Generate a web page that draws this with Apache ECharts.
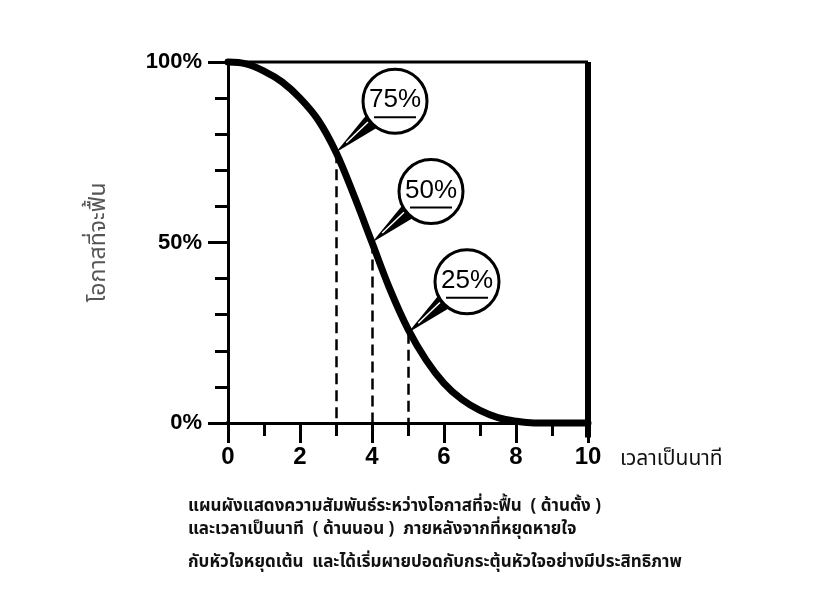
<!DOCTYPE html>
<html>
<head>
<meta charset="utf-8">
<script src="https://cdn.jsdelivr.net/npm/echarts@6/dist/echarts.min.js"></script>
<style>
html,body{margin:0;padding:0;background:#fff;}
#chart{width:818px;height:598px;}
</style>
</head>
<body>
<div id="chart"></div>
<script>
// ---- data ----
var curveX = [0, 0.5, 1, 1.5, 2, 2.5, 3, 3.5, 4, 4.5, 5, 5.5, 6, 6.5, 7, 7.5, 8, 8.5, 9, 9.5, 10];
var curveY = [100, 99.5, 97.5, 94.5, 90, 84, 75, 63, 50, 37, 26, 17.5, 11, 6.5, 3.5, 1.5, 0.5, 0, 0, 0, 0];
var dropX = [3, 4, 5];
var dropY = [75, 50, 25];
var bubbleLabels = ['75%', '50%', '25%'];
var yTickLabels = {0: '0%', 50: '50%', 100: '100%'};
var xTickLabels = ['0', '2', '4', '6', '8', '10'];
var xName = 'เวลาเป็นนาที';
var yName = 'โอกาสที่จะฟื้น';
var captionLines = [
  'แผนผังแสดงความสัมพันธ์ระหว่างโอกาสที่จะฟื้น  ( ด้านตั้ง )',
  'และเวลาเป็นนาที  ( ด้านนอน )  ภายหลังจากที่หยุดหายใจ',
  'กับหัวใจหยุดเต้น  และได้เริ่มผายปอดกับกระตุ้นหัวใจอย่างมีประสิทธิภาพ'
];

var thaiFont = '"Noto Sans Thai", "Noto Serif Thai", Loma, Garuda, Norasi, "DejaVu Sans", sans-serif';
var numFont = '"Liberation Sans", Arial, sans-serif';

var curveData = curveX.map(function (x, i) { return [x, curveY[i]]; });
var bubbleData = dropX.map(function (x, i) { return [x, dropY[i], bubbleLabels[i]]; });

var chart = echarts.init(document.getElementById('chart'), null, {renderer: 'canvas'});

function renderBubble(params, api) {
  var p = api.coord([api.value(0), api.value(1)]);
  var label = bubbleLabels[params.dataIndex];
  var c = [p[0] + 59, p[1] - 51];
  var r = 32;
  var dx = p[0] - c[0], dy = p[1] - c[1];
  var len = Math.sqrt(dx * dx + dy * dy);
  var ang = Math.atan2(dy, dx);
  var a1 = ang - 0.26, a2 = ang + 0.26;
  var b1 = [c[0] + r * Math.cos(a1), c[1] + r * Math.sin(a1)];
  var b2 = [c[0] + r * Math.cos(a2), c[1] + r * Math.sin(a2)];
  var ux = dx / len, uy = dy / len;
  var s1 = [c[0] + ux * (r + 2) + (-uy) * 2, c[1] + uy * (r + 2) + ux * 2];
  var s2 = [c[0] + ux * (len - 14) + (-uy) * 0.5, c[1] + uy * (len - 14) + ux * 0.5];
  return {
    type: 'group',
    children: [
      {type: 'polygon', shape: {points: [p, b1, b2]}, style: {fill: '#000'}},
      {type: 'line', shape: {x1: s1[0], y1: s1[1], x2: s2[0], y2: s2[1]}, style: {stroke: '#fff', lineWidth: 1.5}},
      {type: 'circle', shape: {cx: c[0], cy: c[1], r: r}, style: {fill: '#fff', stroke: '#000', lineWidth: 3}},
      {type: 'text', x: c[0], y: c[1] - 1, style: {text: label, fill: '#000', font: '26px ' + numFont, align: 'center', verticalAlign: 'middle'}},
      {type: 'line', shape: {x1: c[0] - 21, y1: c[1] + 16, x2: c[0] + 21, y2: c[1] + 16}, style: {stroke: '#000', lineWidth: 2}}
    ]
  };
}

var option = {
  animation: false,
  backgroundColor: '#fff',
  title: captionLines.map(function (t, i) {
    return {
      text: t,
      left: 183,
      top: [494, 517, 550][i],
      textStyle: {fontFamily: thaiFont, fontSize: 17, fontWeight: 'bold', color: '#111'}
    };
  }),
  grid: {left: 228, right: 230, top: 62, bottom: 175},
  xAxis: {
    type: 'value',
    min: 0, max: 10, interval: 2,
    name: xName,
    nameLocation: 'end',
    nameGap: 32,
    nameTextStyle: {fontFamily: thaiFont, fontSize: 21, color: '#111', verticalAlign: 'top', padding: [27, 0, 0, 0]},
    axisLine: {show: true, lineStyle: {color: '#000', width: 3}},
    axisTick: {show: true, inside: false, length: 20, lineStyle: {color: '#000', width: 3}},
    minorTick: {show: true, splitNumber: 2, length: 13, lineStyle: {color: '#000', width: 3}},
    splitLine: {show: false},
    minorSplitLine: {show: false},
    axisLabel: {
      margin: 22,
      fontFamily: numFont, fontSize: 24, fontWeight: 'bold', color: '#000',
      formatter: function (v) { return xTickLabels[Math.round(v / 2)]; }
    }
  },
  yAxis: {
    type: 'value',
    min: 0, max: 100, interval: 50,
    name: yName,
    nameLocation: 'middle',
    nameRotate: 90,
    nameGap: 116,
    nameTextStyle: {fontFamily: thaiFont, fontSize: 23, color: '#555'},
    axisLine: {show: true, lineStyle: {color: '#000', width: 3}},
    axisTick: {show: true, inside: false, length: 20, lineStyle: {color: '#000', width: 3}},
    minorTick: {show: true, splitNumber: 5, length: 13, lineStyle: {color: '#000', width: 3}},
    splitLine: {show: false},
    minorSplitLine: {show: false},
    axisLabel: {
      margin: 26,
      fontFamily: numFont, fontSize: 22, fontWeight: 'bold', color: '#000',
      formatter: function (v) { return yTickLabels[v] || ''; }
    }
  },
  series: [
    {
      type: 'line', clip: false, silent: true, symbol: 'none',
      data: [[-0.42, 100], [10, 100]],
      lineStyle: {color: '#000', width: 3}
    },
    {
      type: 'line', clip: false, silent: true, symbol: 'none',
      data: [[-0.65, 0], [0, 0]],
      lineStyle: {color: '#000', width: 3}
    },
    {
      type: 'line', clip: false, silent: true, symbol: 'none',
      data: [[10, 100], [10, -4]],
      lineStyle: {color: '#000', width: 6}
    },
    {
      type: 'line', clip: false, symbol: 'none', smooth: 0.35,
      data: curveData,
      lineStyle: {color: '#000', width: 7, cap: 'round', join: 'round'},
      markLine: {
        silent: true, symbol: 'none', label: {show: false},
        lineStyle: {color: '#000', width: 2.5, type: [11, 6]},
        data: dropX.map(function (x, i) { return [{coord: [x, dropY[i]]}, {coord: [x, 0]}]; })
      }
    },
    {
      type: 'custom', clip: false, silent: true,
      renderItem: renderBubble,
      data: bubbleData,
      z: 10
    }
  ]
};
chart.setOption(option);
</script>
</body>
</html>
